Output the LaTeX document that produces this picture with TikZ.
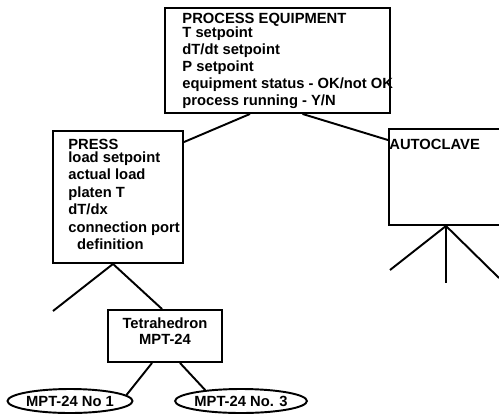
\documentclass[tikz,border=0pt]{standalone}
\usepackage{fontspec}
\setmainfont{Liberation Sans}
\usetikzlibrary{shapes,positioning,calc}

\begin{document}
\begin{tikzpicture}[
    x=0.02cm, y=-0.02cm,
    every node/.style={font=\bfseries\fontsize{8.4}{9.4}\selectfont},
    block/.style={rectangle, draw, line width=1.1pt, inner sep=0pt},
    txt/.style={anchor=north west, align=left, inner sep=0pt},
    oval/.style={ellipse, draw, line width=1.1pt, inner sep=0pt, minimum width=2.5cm, minimum height=0.48cm},
    link/.style={line width=1.1pt}
]
\useasboundingbox (0,0) rectangle (499,419);

\node[block, minimum width=4.5cm, minimum height=2.1cm] (pe) at (277.5,60.5) {};
\node[txt, font=\bfseries\fontsize{8.4}{9.6}\selectfont] (pe text) at ([shift={(0.36cm,-0.12cm)}]pe.north west)
    {PROCESS EQUIPMENT\\[-1.5pt]T setpoint\\dT/dt setpoint\\P setpoint\\equipment status - OK/not OK\\process running - Y/N};

\node[block, minimum width=2.6cm, minimum height=2.64cm] (press) at (118,197) {};
\node[txt, font=\bfseries\fontsize{8.4}{10}\selectfont] (press text) at ([shift={(0.32cm,-0.18cm)}]press.north west)
    {PRESS\\[-3pt]load setpoint\\actual load\\platen T\\dT/dx\\connection port\\\hspace*{5pt}definition};

\node[block, minimum width=2.28cm, minimum height=1.92cm] (autoclave) at (446,177) {};
\node[txt] (autoclave text) at ([shift={(0.02cm,-0.22cm)}]autoclave.north west) {AUTOCLAVE};

\node[block, minimum width=2.28cm, minimum height=1.04cm, align=center] (tetra) at (165,336) {Tetrahedron\\MPT-24\\[-4pt]};

\node[oval] (mpt1) at (70,401) {MPT-24 No 1};
\node[oval] (mpt3) at (241,401) {MPT-24 No. 3};

\coordinate (press left) at (53,311);
\coordinate (ac left) at (390,270);
\coordinate (ac mid) at (446,283);
\coordinate (ac right) at (499,278);

\draw[link] ([xshift=-0.55cm]pe.south) -- ([yshift=-0.24cm]press.north east);
\draw[link] ([xshift=0.5cm]pe.south) -- ([yshift=-0.24cm]autoclave.north west);
\draw[link] ([xshift=-0.1cm]press.south) -- (press left);
\draw[link] ([xshift=-0.1cm]press.south) -- ([xshift=1.1cm]tetra.north west);
\draw[link] (autoclave.south) -- (ac left);
\draw[link] (autoclave.south) -- (ac mid);
\draw[link] (autoclave.south) -- (ac right);
\draw[link] ([xshift=-0.26cm]tetra.south) -- (mpt1.6);
\draw[link] ([xshift=0.3cm]tetra.south) -- (mpt3.163);
\end{tikzpicture}
\end{document}
